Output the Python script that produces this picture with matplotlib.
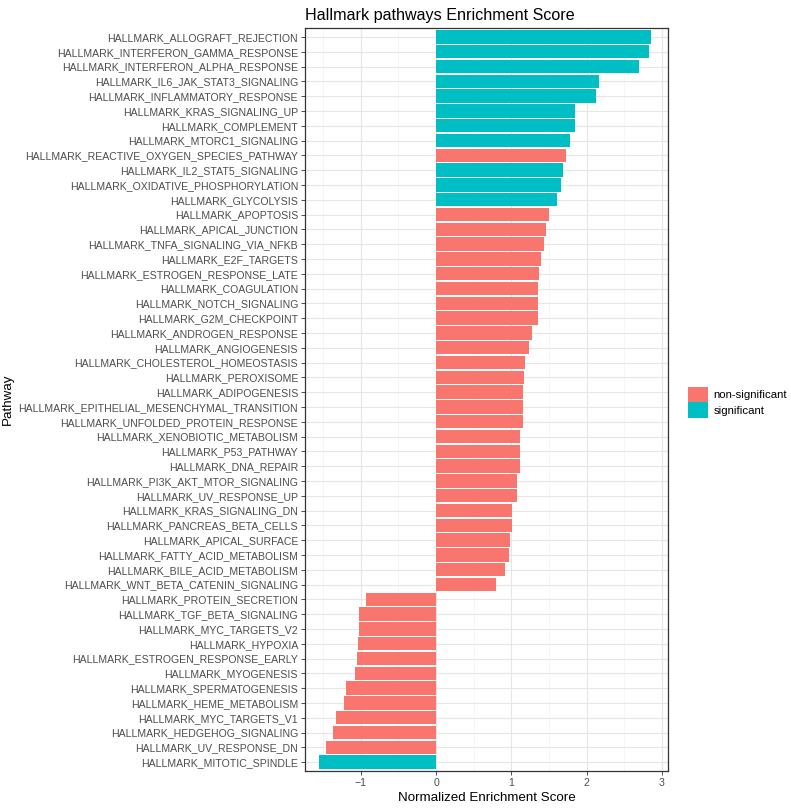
import numpy as np
import matplotlib
matplotlib.use("Agg")
import matplotlib.pyplot as plt
from matplotlib.patches import Patch
from matplotlib.ticker import MultipleLocator

plt.rcParams['font.family'] = ['Liberation Sans', 'DejaVu Sans']

# Pathways top to bottom, as shown in the chart
pathways = [
    "HALLMARK_ALLOGRAFT_REJECTION", "HALLMARK_INTERFERON_GAMMA_RESPONSE",
    "HALLMARK_INTERFERON_ALPHA_RESPONSE", "HALLMARK_IL6_JAK_STAT3_SIGNALING",
    "HALLMARK_INFLAMMATORY_RESPONSE", "HALLMARK_KRAS_SIGNALING_UP",
    "HALLMARK_COMPLEMENT", "HALLMARK_MTORC1_SIGNALING",
    "HALLMARK_REACTIVE_OXYGEN_SPECIES_PATHWAY", "HALLMARK_IL2_STAT5_SIGNALING",
    "HALLMARK_OXIDATIVE_PHOSPHORYLATION", "HALLMARK_GLYCOLYSIS",
    "HALLMARK_APOPTOSIS", "HALLMARK_APICAL_JUNCTION",
    "HALLMARK_TNFA_SIGNALING_VIA_NFKB", "HALLMARK_E2F_TARGETS",
    "HALLMARK_ESTROGEN_RESPONSE_LATE", "HALLMARK_COAGULATION",
    "HALLMARK_NOTCH_SIGNALING", "HALLMARK_G2M_CHECKPOINT",
    "HALLMARK_ANDROGEN_RESPONSE", "HALLMARK_ANGIOGENESIS",
    "HALLMARK_CHOLESTEROL_HOMEOSTASIS", "HALLMARK_PEROXISOME",
    "HALLMARK_ADIPOGENESIS", "HALLMARK_EPITHELIAL_MESENCHYMAL_TRANSITION",
    "HALLMARK_UNFOLDED_PROTEIN_RESPONSE", "HALLMARK_XENOBIOTIC_METABOLISM",
    "HALLMARK_P53_PATHWAY", "HALLMARK_DNA_REPAIR",
    "HALLMARK_PI3K_AKT_MTOR_SIGNALING", "HALLMARK_UV_RESPONSE_UP",
    "HALLMARK_KRAS_SIGNALING_DN", "HALLMARK_PANCREAS_BETA_CELLS",
    "HALLMARK_APICAL_SURFACE", "HALLMARK_FATTY_ACID_METABOLISM",
    "HALLMARK_BILE_ACID_METABOLISM", "HALLMARK_WNT_BETA_CATENIN_SIGNALING",
    "HALLMARK_PROTEIN_SECRETION", "HALLMARK_TGF_BETA_SIGNALING",
    "HALLMARK_MYC_TARGETS_V2", "HALLMARK_HYPOXIA",
    "HALLMARK_ESTROGEN_RESPONSE_EARLY", "HALLMARK_MYOGENESIS",
    "HALLMARK_SPERMATOGENESIS", "HALLMARK_HEME_METABOLISM",
    "HALLMARK_MYC_TARGETS_V1", "HALLMARK_HEDGEHOG_SIGNALING",
    "HALLMARK_UV_RESPONSE_DN", "HALLMARK_MITOTIC_SPINDLE",
]

nes = [
    2.85, 2.83, 2.70, 2.17, 2.12, 1.85, 1.84, 1.78, 1.73, 1.69,
    1.66, 1.60, 1.50, 1.46, 1.44, 1.39, 1.37, 1.36, 1.35, 1.35,
    1.27, 1.23, 1.18, 1.17, 1.16, 1.15, 1.15, 1.12, 1.12, 1.11,
    1.08, 1.07, 1.01, 1.01, 0.98, 0.97, 0.92, 0.80,
    -0.93, -1.02, -1.02, -1.04, -1.05, -1.07, -1.20, -1.22, -1.33, -1.37,
    -1.46, -1.55,
]

significant = [
    True, True, True, True, True, True, True, True, False, True,
    True, True,
] + [False] * 37 + [True]

col_ns = "#F8766D"
col_sig = "#00BFC4"

fig = plt.figure(figsize=(7.91, 8.08), dpi=100)
ax = fig.add_axes([0.3856, 0.0458, 0.4589, 0.9195])

n = len(pathways)
ypos = np.arange(n)[::-1] + 1
colors = [col_sig if s else col_ns for s in significant]
ax.barh(ypos, nes, height=0.9, color=colors, edgecolor="none", zorder=3)

ax.set_ylim(0.4, n + 0.6)
ax.set_xlim(-1.74, 3.08)
ax.set_yticks(ypos)
ax.set_yticklabels(pathways)
ax.xaxis.set_major_locator(MultipleLocator(1))
ax.xaxis.set_minor_locator(MultipleLocator(0.5))
ax.set_xticks([-1, 0, 1, 2, 3])
ax.set_xticklabels(["\u22121", "0", "1", "2", "3"])

ax.grid(True, which="major", color="#E6E6E6", linewidth=0.8, zorder=0)
ax.grid(True, which="minor", axis="x", color="#F2F2F2", linewidth=0.5, zorder=0)
ax.tick_params(axis="both", which="major", labelsize=7.6, labelcolor="#4D4D4D",
               color="#333333", length=3, width=0.6, pad=2)
ax.tick_params(axis="x", which="minor", length=0)
for sp in ax.spines.values():
    sp.set_color("#333333")
    sp.set_linewidth(0.9)

ax.set_title("Hallmark pathways Enrichment Score", fontsize=11.6, pad=6, loc="left")
ax.set_xlabel("Normalized Enrichment Score", fontsize=9.6, labelpad=3)
ax.set_ylabel("Pathway", fontsize=9.6, labelpad=3)

handles = [Patch(facecolor=col_ns, label="non-significant"),
           Patch(facecolor=col_sig, label="significant")]
fig.legend(handles=handles, loc="center left", bbox_to_anchor=(0.857, 0.502),
           frameon=False, fontsize=8.2, handlelength=1.75, handleheight=1.75,
           handletextpad=0.5, labelspacing=0.0)

fig.savefig("out.png", dpi=100)
